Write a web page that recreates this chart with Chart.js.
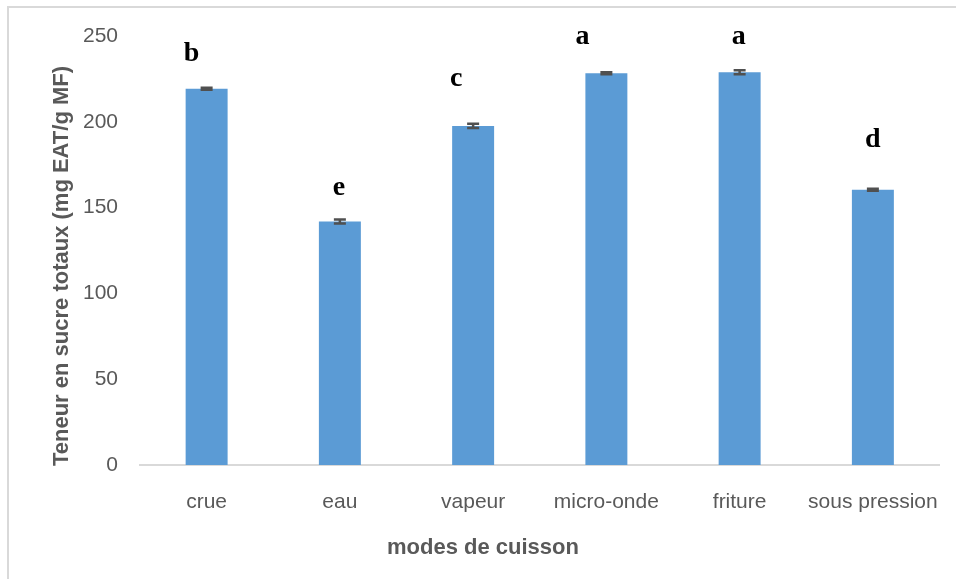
<!DOCTYPE html>
<html>
<head>
<meta charset="utf-8">
<script src="https://cdn.jsdelivr.net/npm/chart.js@4/dist/chart.umd.min.js"></script>
<style>
  html, body { margin: 0; background: #fff; }
</style>
</head>
<body>
<canvas id="chart" width="956" height="579"></canvas>
<script>
// data
const modes = ['crue', 'eau', 'vapeur', 'micro-onde', 'friture', 'sous pression'];
const teneur = [219.3, 141.9, 197.6, 228.3, 228.9, 160.4];
const erreur = [0.6, 1.2, 1.2, 0.6, 1.2, 0.6];
const lettres = ['b', 'e', 'c', 'a', 'a', 'd'];
const yMax = 250, yStep = 50;

const grey = '#595959';
const sans = '"Liberation Sans", Arial, sans-serif';

// letter placement tweaks (px): shift in x, baseline height above the bar top
const lettreDx = [-15, -1, -17, -24, -1, 0];
const lettreDy = [28, 26, 40, 29, 28, 43];

const decor = {
  id: 'decor',
  beforeDraw(chart) {
    const c = chart.ctx;
    c.save();
    c.fillStyle = '#fff';
    c.fillRect(0, 0, chart.width, chart.height);
    c.strokeStyle = '#d9d9d9';
    c.lineWidth = 2;
    c.strokeRect(8, 7, chart.width + 20, chart.height + 20);
    c.restore();
  },
  afterDatasetsDraw(chart) {
    const c = chart.ctx;
    const y = chart.scales.y;
    const bars = chart.getDatasetMeta(0).data;
    c.save();
    // error bars
    c.strokeStyle = '#505050';
    c.lineWidth = 2.5;
    bars.forEach((b, i) => {
      const hi = y.getPixelForValue(teneur[i] + erreur[i]);
      const lo = y.getPixelForValue(teneur[i] - erreur[i]);
      c.beginPath();
      c.moveTo(b.x, hi); c.lineTo(b.x, lo);
      c.moveTo(b.x - 6, hi); c.lineTo(b.x + 6, hi);
      c.moveTo(b.x - 6, lo); c.lineTo(b.x + 6, lo);
      c.stroke();
    });
    // significance letters
    c.fillStyle = '#000';
    c.font = 'bold 28px "Liberation Serif", "Times New Roman", serif';
    c.textAlign = 'center';
    c.textBaseline = 'alphabetic';
    bars.forEach((b, i) => {
      c.fillText(lettres[i], b.x + lettreDx[i], b.y - lettreDy[i]);
    });
    // axis titles
    c.fillStyle = grey;
    c.font = 'bold 22px ' + sans;
    c.textBaseline = 'middle';
    c.fillText('modes de cuisson', 483, 548);
    c.translate(62, 266);
    c.rotate(-Math.PI / 2);
    c.fillText('Teneur en sucre totaux (mg EAT/g MF)', 0, 0);
    c.restore();
  }
};

new Chart(document.getElementById('chart'), {
  type: 'bar',
  data: {
    labels: modes,
    datasets: [{
      data: teneur,
      backgroundColor: '#5b9bd5',
      categoryPercentage: 1,
      barPercentage: 0.315
    }]
  },
  options: {
    responsive: false,
    animation: false,
    layout: { padding: { left: 0, top: 36, right: 16, bottom: 0 } },
    plugins: { legend: { display: false }, tooltip: { enabled: false } },
    scales: {
      x: {
        afterFit: s => { s.height = 114; },
        grid: { display: false },
        border: { display: true, color: '#d9d9d9', width: 2 },
        ticks: { color: grey, font: { family: sans, size: 21 }, padding: 17, maxRotation: 0 }
      },
      y: {
        min: 0, max: yMax,
        afterFit: s => { s.width = 140; },
        grid: { display: false, drawTicks: false },
        border: { display: false },
        ticks: { stepSize: yStep, color: grey, font: { family: sans, size: 21 }, padding: 22 }
      }
    }
  },
  plugins: [decor]
});
</script>
</body>
</html>
